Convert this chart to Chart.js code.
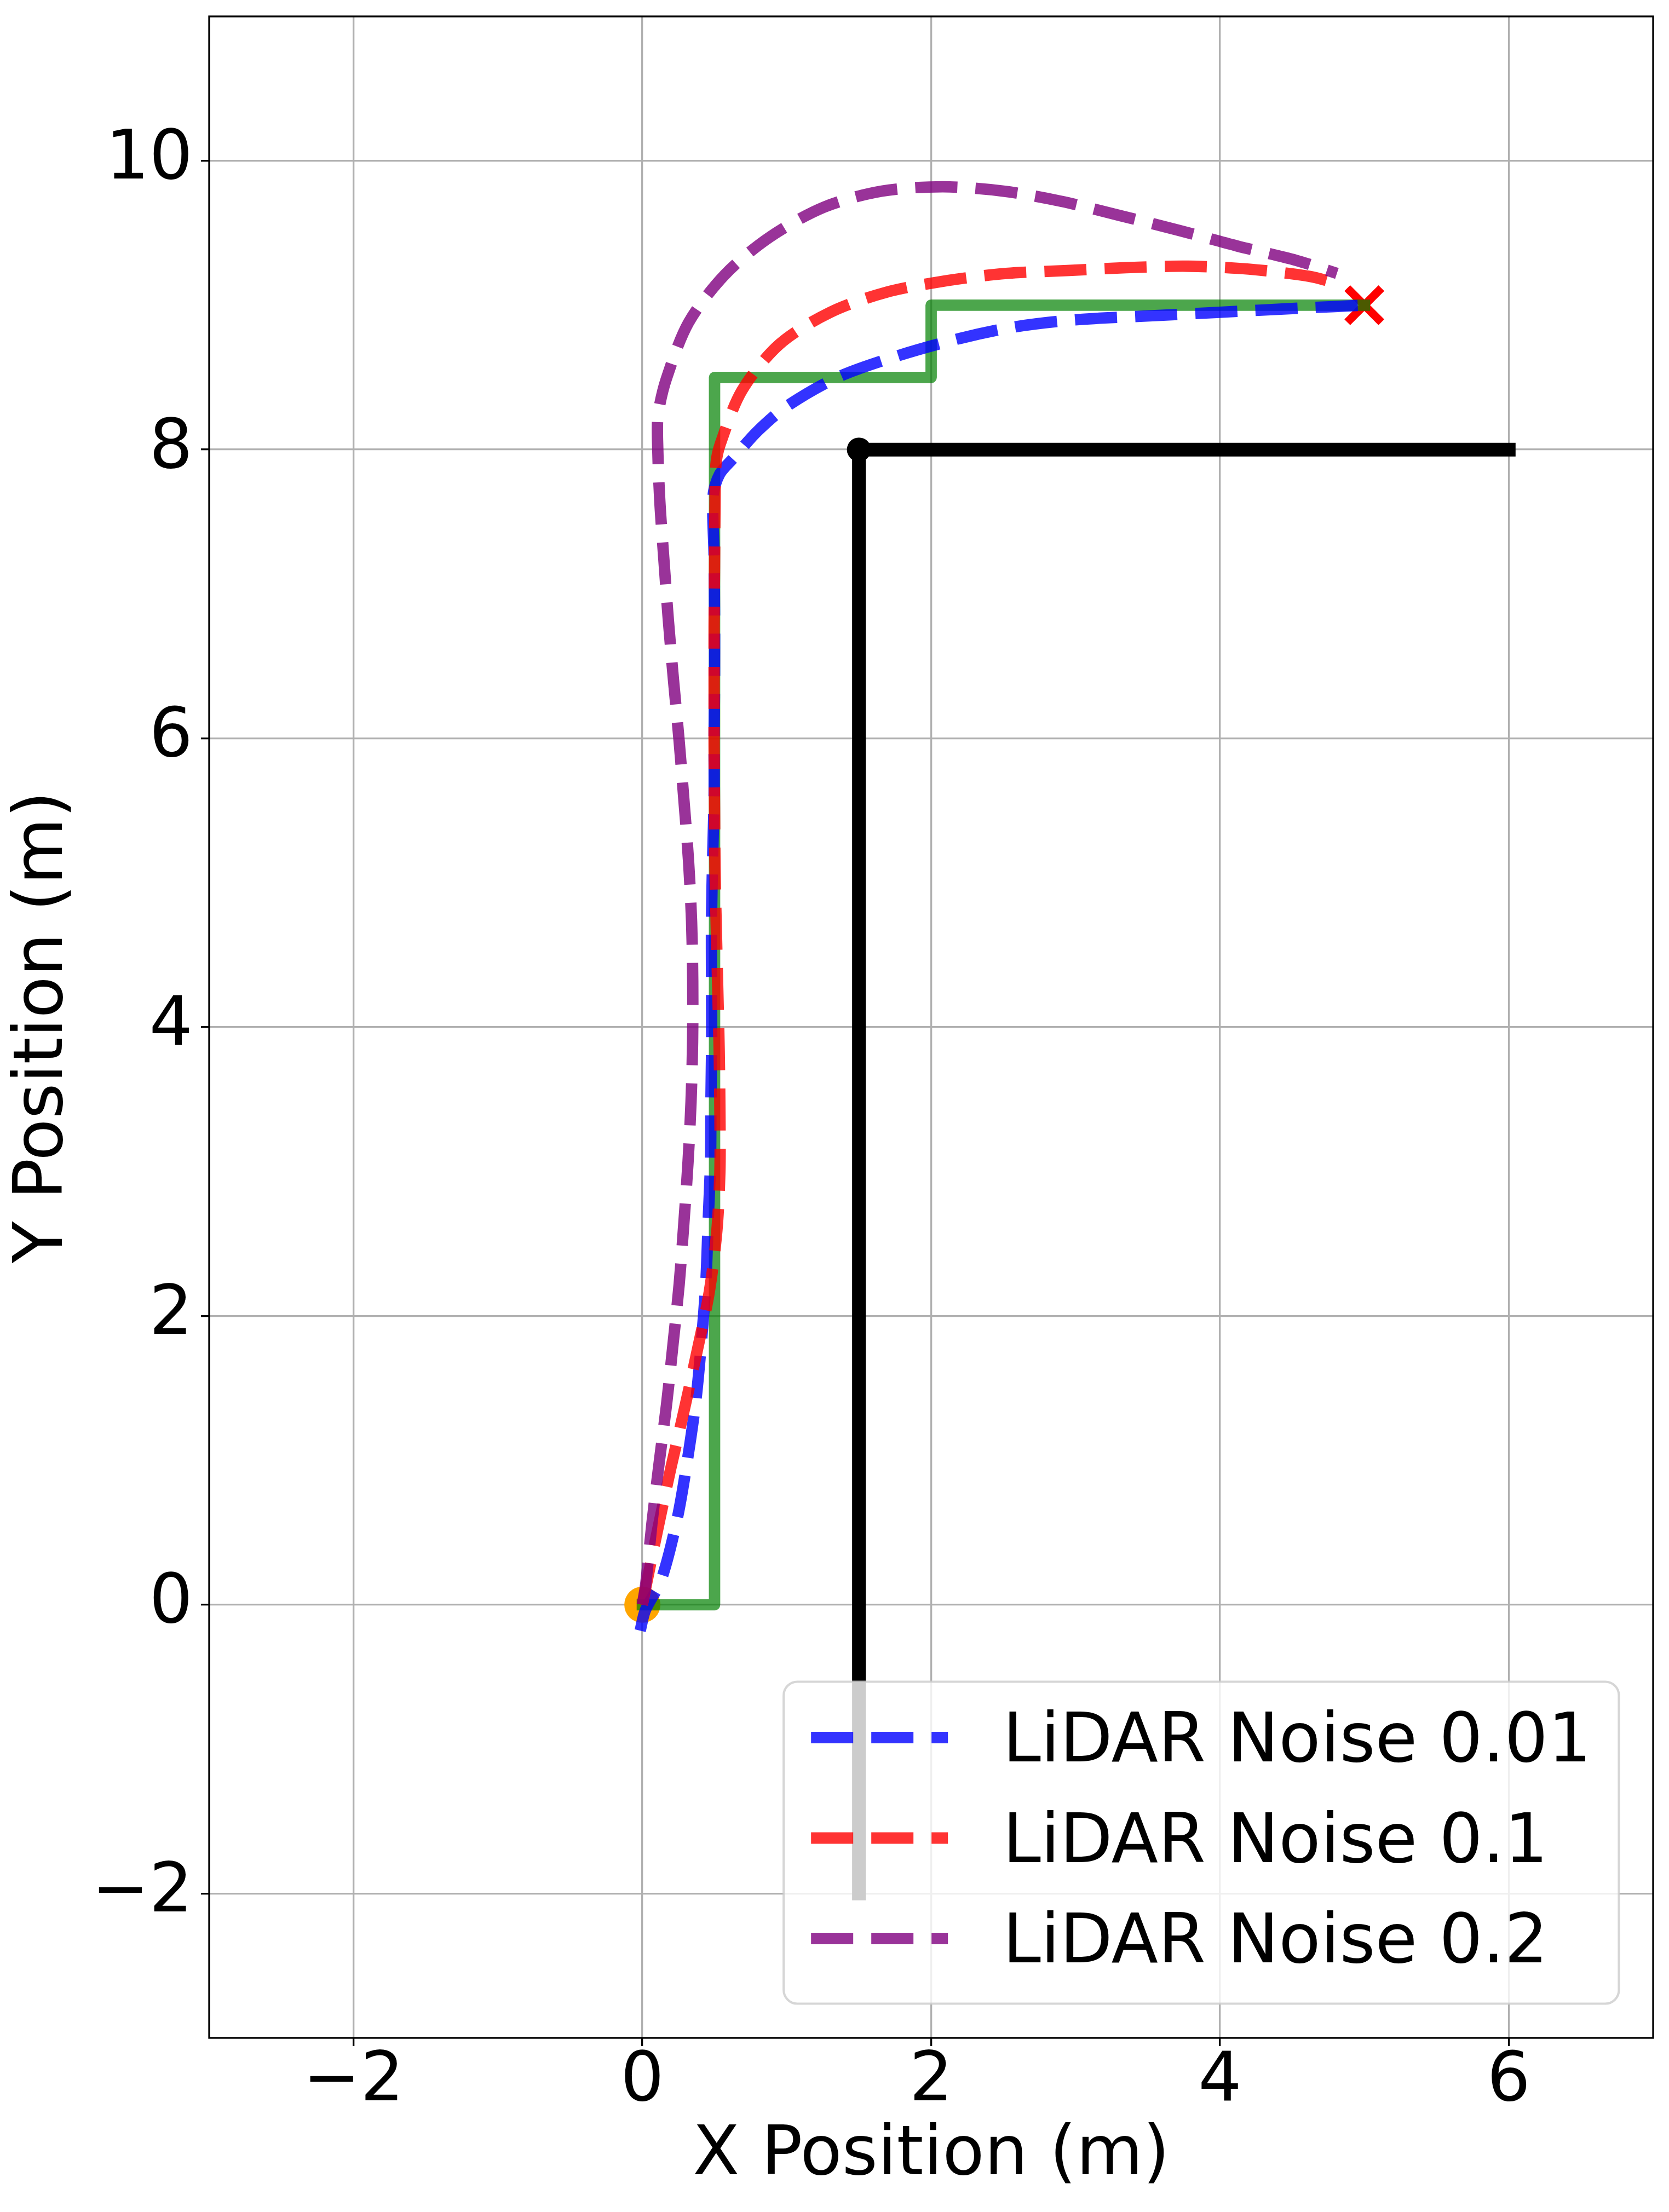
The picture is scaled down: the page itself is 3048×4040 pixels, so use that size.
<!DOCTYPE html>
<html>
<head>
<meta charset="utf-8">
<title>LiDAR noise trajectories</title>
<script src="https://cdn.jsdelivr.net/npm/chart.js@4.4.1/dist/chart.umd.min.js"></script>
<style>
    html, body { margin: 0; padding: 0; background: #ffffff; }
    canvas { display: block; }
</style>
</head>
<body>
<canvas id="trajectory-chart" width="3048" height="4040"></canvas>
<script>
// Graduations des axes
const xTicks = [-2, 0, 2, 4, 6];
const yTicks = [-2, 0, 2, 4, 6, 8, 10];

// Depart et arrivee
const startX = [0];
const startY = [0];
const goalX = [5];
const goalY = [9];

// Mur (obstacle)
const wallX = [1.5, 1.5, 6];
const wallY = [-2, 8, 8];

// Chemin planifie
const pathX = [0, 0.5, 0.5, 2, 2, 5];
const pathY = [0, 0, 8.5, 8.5, 9, 9];

// Trajectoires estimees selon le bruit LiDAR
const noiseLabels = ['LiDAR Noise 0.01', 'LiDAR Noise 0.1', 'LiDAR Noise 0.2'];

const noise001X = [-0.015, 0.02, 0.13, 0.24, 0.31, 0.37, 0.41, 0.44, 0.456, 0.472, 0.475, 0.48, 0.479, 0.479, 0.487, 0.497, 0.497, 0.5, 0.5, 0.497, 0.49, 0.535, 0.63, 0.8, 1.0, 1.35, 1.77, 2.2, 2.58, 3.01, 3.59, 3.98, 4.56, 5.0];
const noise001Y = [-0.18, -0.04, 0.17, 0.59, 0.99, 1.41, 1.83, 2.24, 2.66, 3.07, 3.49, 3.91, 4.33, 4.75, 5.18, 5.6, 6.0, 6.42, 6.85, 7.26, 7.68, 7.83, 7.94, 8.13, 8.3, 8.5, 8.65, 8.77, 8.85, 8.9, 8.93, 8.95, 8.98, 9.0];

const noise01X = [0, 0.03, 0.108, 0.197, 0.29, 0.38, 0.464, 0.516, 0.537, 0.537, 0.532, 0.522, 0.512, 0.503, 0.5, 0.497, 0.497, 0.497, 0.5, 0.503, 0.51, 0.54, 0.69, 0.95, 1.3, 1.69, 2.11, 2.52, 2.94, 3.35, 3.78, 4.2, 4.62, 4.78];
const noise01Y = [0, 0.15, 0.53, 0.945, 1.35, 1.76, 2.17, 2.59, 3.0, 3.42, 3.84, 4.27, 4.69, 5.11, 5.52, 5.94, 6.36, 6.77, 7.19, 7.61, 7.9, 8.04, 8.41, 8.73, 8.95, 9.09, 9.17, 9.22, 9.24, 9.26, 9.27, 9.25, 9.2, 9.16];

const noise02X = [0, 0.023, 0.066, 0.116, 0.168, 0.213, 0.255, 0.288, 0.316, 0.337, 0.348, 0.349, 0.341, 0.32, 0.288, 0.254, 0.216, 0.18, 0.149, 0.12, 0.105, 0.11, 0.166, 0.32, 0.57, 0.88, 1.26, 1.66, 2.08, 2.5, 2.9, 3.31, 3.71, 4.12, 4.53, 4.81];
const noise02Y = [0, 0.14, 0.56, 0.98, 1.39, 1.81, 2.22, 2.65, 3.06, 3.48, 3.9, 4.32, 4.73, 5.15, 5.57, 5.99, 6.4, 6.82, 7.24, 7.66, 8.07, 8.25, 8.49, 8.88, 9.21, 9.47, 9.68, 9.79, 9.82, 9.79, 9.72, 9.62, 9.52, 9.41, 9.31, 9.22];

const FONT_SIZE = 125;
const NOISE_WIDTH = 20.8;
const NOISE_DASH = [77, 33];

Chart.defaults.font.family = "'DejaVu Sans', sans-serif";
Chart.defaults.color = '#000000';

/**
 * Assemble deux listes en points {x, y}
 */
function toPoints(xs, ys) {
    return xs.map((x, i) => ({ x: x, y: ys[i] }));
}

/**
 * Format matplotlib : vrai signe moins
 */
function formatTick(value) {
    return value < 0 ? '\u2212' + Math.abs(value) : String(value);
}

function noiseDataset(label, xs, ys, color, order) {
    return {
        label: label,
        data: toPoints(xs, ys),
        showLine: true,
        borderColor: color,
        borderWidth: NOISE_WIDTH,
        borderDash: NOISE_DASH,
        borderCapStyle: 'butt',
        borderJoinStyle: 'round',
        tension: 0.3,
        pointRadius: 0,
        inLegend: true,
        order: order
    };
}

// Cadre complet autour de la zone de trace
const framePlugin = {
    id: 'frame',
    afterDatasetsDraw(chart) {
        const { ctx, chartArea } = chart;
        ctx.save();
        ctx.strokeStyle = '#000000';
        ctx.lineWidth = 3.3;
        ctx.strokeRect(chartArea.left, chartArea.top,
            chartArea.right - chartArea.left, chartArea.bottom - chartArea.top);
        ctx.restore();
    }
};

// Legende semi-transparente en bas a droite, dessinee au-dessus des courbes
const cornerLegendPlugin = {
    id: 'cornerLegend',
    afterDraw(chart) {
        const { ctx, chartArea } = chart;
        const items = chart.data.datasets.filter(ds => ds.inLegend);
        const fs = FONT_SIZE;
        const pad = 0.4 * fs;
        const handleLen = 2.0 * fs;
        const textPad = 0.8 * fs;
        const rowH = 0.968 * fs;
        const spacing = 0.5 * fs;

        ctx.save();
        ctx.font = fs + "px 'DejaVu Sans'";
        const textW = Math.max(...items.map(ds => ctx.measureText(ds.label).width));
        const boxW = pad + handleLen + textPad + textW + pad;
        const boxH = 2 * pad + items.length * rowH + (items.length - 1) * spacing;
        const right = chartArea.right - 0.5 * fs;
        const bottom = chartArea.bottom - 0.5 * fs;
        const left = right - boxW;
        const top = bottom - boxH;

        ctx.beginPath();
        ctx.roundRect(left, top, boxW, boxH, 0.2 * fs);
        ctx.fillStyle = 'rgba(255, 255, 255, 0.8)';
        ctx.fill();
        ctx.lineWidth = 4.17;
        ctx.strokeStyle = 'rgba(204, 204, 204, 0.8)';
        ctx.stroke();

        items.forEach((ds, i) => {
            const rowTop = top + pad + i * (rowH + spacing);
            const lineY = rowTop + 0.416 * fs;
            const x0 = left + pad;
            ctx.beginPath();
            ctx.setLineDash(ds.borderDash);
            ctx.lineDashOffset = 0;
            ctx.lineCap = 'butt';
            ctx.lineWidth = ds.borderWidth;
            ctx.strokeStyle = ds.borderColor;
            ctx.moveTo(x0, lineY);
            ctx.lineTo(x0 + handleLen, lineY);
            ctx.stroke();
            ctx.setLineDash([]);

            ctx.fillStyle = '#000000';
            ctx.textAlign = 'left';
            ctx.textBaseline = 'alphabetic';
            ctx.fillText(ds.label, x0 + handleLen + textPad, rowTop + 0.764 * fs);
        });
        ctx.restore();
    }
};

const trajectoryCtx = document.getElementById('trajectory-chart').getContext('2d');
const trajectoryChart = new Chart(trajectoryCtx, {
    type: 'scatter',
    data: {
        datasets: [
            {
                label: 'Wall',
                data: toPoints(wallX, wallY),
                showLine: true,
                borderColor: '#000000',
                borderWidth: 25,
                borderCapStyle: 'square',
                borderJoinStyle: 'round',
                tension: 0,
                pointRadius: [0, 22, 0],
                pointBackgroundColor: '#000000',
                pointBorderWidth: 0,
                order: 7
            },
            {
                label: 'Start',
                data: toPoints(startX, startY),
                showLine: false,
                pointRadius: 33,
                pointBackgroundColor: '#ffa500',
                pointBorderWidth: 0,
                order: 6
            },
            {
                label: 'Goal',
                data: toPoints(goalX, goalY),
                showLine: false,
                pointStyle: 'crossRot',
                pointRadius: 44,
                pointBorderColor: '#ff0000',
                pointBorderWidth: 15,
                order: 5
            },
            {
                label: 'Planned Path',
                data: toPoints(pathX, pathY),
                showLine: true,
                borderColor: 'rgba(0, 128, 0, 0.7)',
                borderWidth: 20.8,
                borderCapStyle: 'square',
                borderJoinStyle: 'round',
                tension: 0,
                pointRadius: 0,
                order: 4
            },
            noiseDataset(noiseLabels[0], noise001X, noise001Y, 'rgba(0, 0, 255, 0.8)', 3),
            noiseDataset(noiseLabels[1], noise01X, noise01Y, 'rgba(255, 0, 0, 0.8)', 2),
            noiseDataset(noiseLabels[2], noise02X, noise02Y, 'rgba(128, 0, 128, 0.8)', 1)
        ]
    },
    options: {
        responsive: false,
        devicePixelRatio: 1,
        animation: false,
        events: [],
        layout: {
            autoPadding: false,
            padding: { left: 0, top: 30, right: 29, bottom: 0 }
        },
        plugins: {
            legend: { display: false },
            tooltip: { enabled: false }
        },
        scales: {
            x: {
                type: 'linear',
                min: -3,
                max: 7,
                afterBuildTicks: scale => {
                    scale.ticks = xTicks.map(v => ({ value: v }));
                },
                afterFit: scale => {
                    scale.height = 318;
                    scale.paddingLeft = 0;
                    scale.paddingRight = 0;
                },
                ticks: {
                    callback: formatTick,
                    autoSkip: false,
                    maxRotation: 0,
                    padding: 4,
                    color: '#000000',
                    font: { size: FONT_SIZE, lineHeight: 1 }
                },
                grid: {
                    color: '#b0b0b0',
                    lineWidth: 3.3,
                    drawTicks: true,
                    tickLength: 15,
                    tickColor: '#000000',
                    tickWidth: 3.3
                },
                border: { display: false },
                title: {
                    display: true,
                    text: 'X Position (m)',
                    color: '#000000',
                    font: { size: FONT_SIZE, lineHeight: 1.2 },
                    padding: { top: 0, bottom: 26 }
                }
            },
            y: {
                type: 'linear',
                min: -3,
                max: 11,
                afterBuildTicks: scale => {
                    scale.ticks = yTicks.map(v => ({ value: v }));
                },
                afterFit: scale => {
                    scale.width = 382;
                    scale.paddingTop = 0;
                    scale.paddingBottom = 0;
                },
                ticks: {
                    callback: formatTick,
                    autoSkip: false,
                    padding: 15,
                    color: '#000000',
                    font: { size: FONT_SIZE, lineHeight: 1 }
                },
                grid: {
                    color: '#b0b0b0',
                    lineWidth: 3.3,
                    drawTicks: true,
                    tickLength: 15,
                    tickColor: '#000000',
                    tickWidth: 3.3
                },
                border: { display: false },
                title: {
                    display: true,
                    text: 'Y Position (m)',
                    color: '#000000',
                    font: { size: FONT_SIZE, lineHeight: 1.2 },
                    padding: { top: 6, bottom: 0 }
                }
            }
        }
    },
    plugins: [framePlugin, cornerLegendPlugin]
});
</script>
</body>
</html>
